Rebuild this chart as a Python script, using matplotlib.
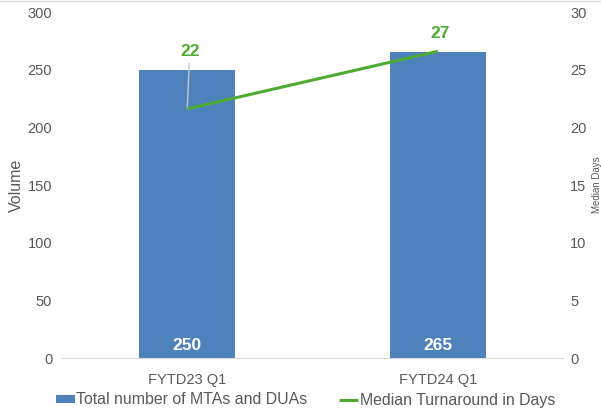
import matplotlib.pyplot as plt
from matplotlib.lines import Line2D

plt.rcParams['font.family'] = ['Liberation Sans', 'DejaVu Sans']

categories = ["FYTD23 Q1", "FYTD24 Q1"]
volume = [250, 265]
median_days = [21.6, 26.6]

bar_color = "#4f81bd"
line_color = "#4eac32"
text_gray = "#595959"

fig = plt.figure(figsize=(6.01, 4.08), dpi=100)
ax = fig.add_axes([0.103, 0.1225, 0.834, 0.848])
ax2 = ax.twinx()

x = list(range(len(categories)))
bars = ax.bar(x, volume, width=0.385, color=bar_color, zorder=2,
              label="Total number of MTAs and DUAs")
for xi, v in zip(x, volume):
    ax.text(xi, 4, str(v), ha="center", va="bottom", color="white",
            fontsize=12.5, fontweight="bold", zorder=3)

ax.set_xlim(-0.5, 1.5)
ax.set_ylim(0, 300)
ax.set_yticks(range(0, 301, 50))
ax.set_xticks(x)
ax.set_xticklabels(categories)

ax2.plot(x, median_days, color=line_color, lw=2.2, zorder=4,
         label="Median Turnaround in Days", solid_capstyle="butt")
ax2.set_ylim(0, 30)
ax2.set_yticks(range(0, 31, 5))

# axis titles placed as in the reference
fig.text(16 / 601, 1 - 185 / 408, "Volume", rotation=90, ha="center", va="center",
         fontsize=11.5, color=text_gray)
fig.text(597 / 601, 1 - 185 / 408, "Median Days", rotation=90, ha="center",
         va="center", fontsize=7, color=text_gray)

# data labels for the line
ax2.annotate(f"{median_days[0]:.0f}", xy=(x[0], median_days[0]),
             xytext=(x[0] + 0.01, 25.9), ha="center", va="bottom",
             textcoords="data", color=line_color, fontsize=12.5, fontweight="bold",
             arrowprops=dict(arrowstyle="-", color="#c8c8c8", lw=1,
                             shrinkA=1, shrinkB=0))
ax2.text(x[1] + 0.01, median_days[1] + 0.9, f"{median_days[1]:.0f}",
         ha="center", va="bottom", color=line_color, fontsize=12.5,
         fontweight="bold")

for a in (ax, ax2):
    for s in ("top", "left", "right"):
        a.spines[s].set_visible(False)
    a.tick_params(length=0, colors=text_gray, labelsize=10.5)
ax.spines["bottom"].set_color("#d9d9d9")
ax2.spines["bottom"].set_visible(False)
ax.tick_params(axis="y", pad=7)
ax.tick_params(axis="x", pad=11)
ax2.tick_params(axis="y", pad=5)

ax.set_zorder(ax2.get_zorder() - 1)
ax2.patch.set_visible(False)

h1, l1 = ax.get_legend_handles_labels()
h2, l2 = ax2.get_legend_handles_labels()
fig.legend(h1 + h2, l1 + l2, loc="center", bbox_to_anchor=(0.508, 1 - 400 / 408),
           ncol=2, frameon=False, fontsize=11.4, labelcolor=text_gray,
           handlelength=1.2, handleheight=0.45, handletextpad=0.1,
           columnspacing=2.0, borderpad=0, borderaxespad=0)

fig.add_artist(Line2D([0, 1], [0.998, 0.998], color="#d9d9d9", lw=1))

fig.savefig("out.png", dpi=100)
